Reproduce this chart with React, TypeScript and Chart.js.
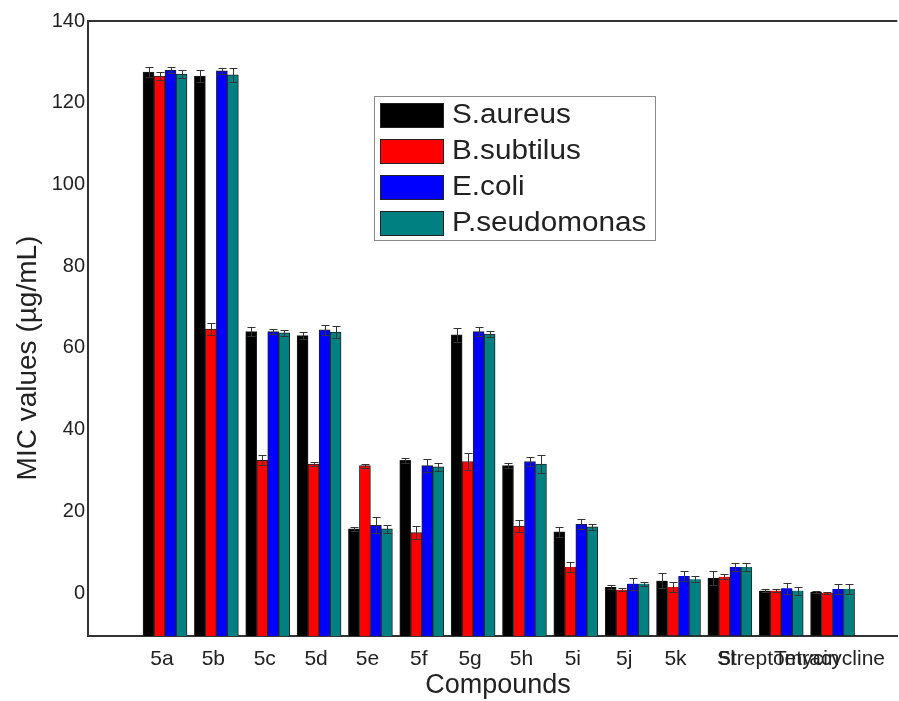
import React, { useEffect, useRef } from 'react';
import { Chart, registerables } from 'chart.js';

Chart.register(...registerables);

const CATEGORIES = ['5a', '5b', '5c', '5d', '5e', '5f', '5g', '5h', '5i', '5j', '5k', '5l', 'Streptomycin', 'Tetracycline'];
const SERIES_NAMES = ['S.aureus', 'B.subtilus', 'E.coli', 'P.seudomonas'];
const SERIES_COLORS = ['#000000', '#ff0000', '#0000ff', '#008080'];

const S_AUREUS = [127.5, 126.5, 64, 63, 15.7, 32.5, 63.2, 31.2, 15, 1.5, 3, 3.7, 0.6, 0.3];
const B_SUBTILUS = [126.5, 64.6, 32.5, 31.6, 31.2, 14.8, 32.2, 16.4, 6.4, 0.8, 1.5, 4, 0.6, 0];
const E_COLI = [128, 127.8, 64, 64.4, 16.6, 31.2, 64, 32.2, 16.9, 2.3, 4.2, 6.4, 1.2, 1];
const P_SEUDOMONAS = [127, 126.8, 63.7, 63.9, 15.7, 30.9, 63.4, 31.6, 16.2, 2.3, 3.4, 6.4, 0.6, 1];

const S_AUREUS_ERR = [1.2, 1.5, 1, 0.8, 0.5, 0.6, 1.7, 0.6, 1.2, 0.5, 1.8, 1.8, 0.3, 0.3];
const B_SUBTILUS_ERR = [1, 1.5, 1.2, 0.6, 0.5, 1.5, 2, 1.5, 1.2, 0.4, 1.2, 0.6, 0.3, 0.3];
const E_COLI_ERR = [0.8, 0.8, 0.6, 1.2, 2, 1.5, 1, 1.2, 1.2, 1.5, 1.2, 1, 1.3, 1.3];
const P_SEUDOMONAS_ERR = [1, 1.8, 0.8, 1.5, 1, 1, 0.8, 2.2, 0.8, 0.5, 0.8, 1, 1, 1.3];

const Y_TICKS = [0, 20, 40, 60, 80, 100, 120, 140];
const Y_MIN = -10.5;
const Y_MAX = 140;
const X_MIN = -1.5;
const X_MAX = 14.26;

const Y_TITLE = 'MIC values (µg/mL)';
const X_TITLE = 'Compounds';

const FONT = '"Liberation Sans", Arial, Helvetica, sans-serif';

const VALUES = [S_AUREUS, B_SUBTILUS, E_COLI, P_SEUDOMONAS];
const ERRORS = [S_AUREUS_ERR, B_SUBTILUS_ERR, E_COLI_ERR, P_SEUDOMONAS_ERR];

const errorBarPlugin = {
  id: 'errorBars',
  afterDatasetsDraw(chart: any) {
    const ctx = chart.ctx;
    const yScale = chart.scales.y;
    ctx.save();
    ctx.strokeStyle = '#333333';
    ctx.lineWidth = 1;
    VALUES.forEach((vals, d) => {
      const meta = chart.getDatasetMeta(d);
      meta.data.forEach((el: any, i: number) => {
        const v = vals[i];
        const e = ERRORS[d][i];
        const x = Math.round(el.x) + 0.5;
        const yt = Math.round(yScale.getPixelForValue(v + e)) + 0.5;
        const yb = Math.round(yScale.getPixelForValue(v - e)) + 0.5;
        const hw = 4;
        ctx.beginPath();
        ctx.moveTo(x, yt);
        ctx.lineTo(x, yb);
        ctx.moveTo(x - hw, yt);
        ctx.lineTo(x + hw, yt);
        ctx.moveTo(x - hw, yb);
        ctx.lineTo(x + hw, yb);
        ctx.stroke();
      });
    });
    ctx.restore();
  },
};

const decorPlugin = {
  id: 'decor',
  afterDraw(chart: any) {
    const ctx = chart.ctx;
    const area = chart.chartArea;
    ctx.save();
    // top frame line
    ctx.strokeStyle = '#333333';
    ctx.lineWidth = 2;
    ctx.beginPath();
    ctx.moveTo(area.left - 1, area.top);
    ctx.lineTo(area.right, area.top);
    ctx.stroke();

    // axis titles
    ctx.fillStyle = '#222222';
    ctx.font = `27px ${FONT}`;
    ctx.textAlign = 'center';
    ctx.textBaseline = 'middle';
    ctx.fillText(X_TITLE, 498, 686);
    ctx.save();
    ctx.translate(28, 358);
    ctx.rotate(-Math.PI / 2);
    ctx.font = `28px ${FONT}`;
    ctx.fillText(Y_TITLE, 0, 0);
    ctx.restore();

    // legend
    const lx = 374;
    const ly = 96;
    const lw = 281;
    const lh = 144;
    ctx.fillStyle = '#ffffff';
    ctx.fillRect(lx, ly, lw, lh);
    ctx.strokeStyle = '#8a8a8a';
    ctx.lineWidth = 1;
    ctx.strokeRect(lx + 0.5, ly + 0.5, lw, lh);
    const rows = [115, 151, 187, 223];
    ctx.font = `27px ${FONT}`;
    ctx.textAlign = 'left';
    ctx.textBaseline = 'middle';
    SERIES_NAMES.forEach((name, k) => {
      const cy = rows[k];
      ctx.fillStyle = SERIES_COLORS[k];
      ctx.fillRect(380, cy - 12, 64, 25);
      ctx.strokeStyle = '#222222';
      ctx.lineWidth = 1;
      ctx.strokeRect(380.5, cy - 11.5, 63, 24);
      ctx.fillStyle = '#222222';
      ctx.save();
      ctx.translate(452, cy + 1);
      ctx.scale(1.1, 1);
      ctx.fillText(name, 0, 0);
      ctx.restore();
    });
    ctx.restore();
  },
};

export default function App() {
  const ref = useRef<HTMLCanvasElement | null>(null);

  useEffect(() => {
    if (!ref.current) return;
    const datasets = VALUES.map((vals, d) => ({
      label: SERIES_NAMES[d],
      data: vals.map((v, i) => ({ x: i, y: [Y_MIN, v] })),
      backgroundColor: SERIES_COLORS[d],
      borderColor: '#222222',
      borderWidth: 1,
      borderSkipped: 'start',
      barThickness: 11,
    }));

    const chart = new Chart(ref.current, {
      type: 'bar',
      data: { datasets } as any,
      plugins: [errorBarPlugin, decorPlugin],
      options: {
        responsive: false,
        animation: false,
        layout: { padding: { top: 21, right: 0, bottom: 0, left: 0 } },
        plugins: {
          legend: { display: false },
          tooltip: { enabled: false },
        },
        scales: {
          x: {
            type: 'linear',
            min: X_MIN,
            max: X_MAX,
            offset: false,
            grid: { display: false, drawTicks: false },
            border: { display: true, color: '#333333', width: 2 },
            afterBuildTicks: (s: any) => {
              s.ticks = CATEGORIES.map((_, i) => ({ value: i }));
            },
            afterFit: (s: any) => {
              s.height = 65;
            },
            ticks: {
              autoSkip: false,
              maxRotation: 0,
              minRotation: 0,
              padding: 11,
              labelOffset: -3,
              color: '#222222',
              font: { family: FONT, size: 21 },
              callback: (v: any) => CATEGORIES[v as number],
            },
          },
          y: {
            type: 'linear',
            min: Y_MIN,
            max: Y_MAX,
            grid: { display: false, drawTicks: false },
            border: { display: true, color: '#333333', width: 2 },
            afterBuildTicks: (s: any) => {
              s.ticks = Y_TICKS.map((v) => ({ value: v }));
            },
            afterFit: (s: any) => {
              s.width = 88;
            },
            ticks: {
              padding: 3,
              color: '#222222',
              font: { family: FONT, size: 20 },
            },
          },
        },
      } as any,
    });
    return () => chart.destroy();
  }, []);

  return (
    <canvas
      ref={ref}
      width={899}
      height={701}
      style={{ position: 'absolute', left: 0, top: 0, width: 899, height: 701 }}
    />
  );
}
